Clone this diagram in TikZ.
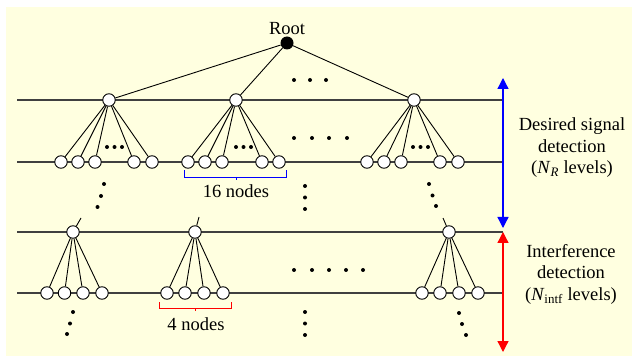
\documentclass[tikz,border=0pt]{standalone}
\usepackage{fontspec}
\setmainfont{Liberation Serif}
\usetikzlibrary{arrows.meta}
\definecolor{bgyellow}{RGB}{255,255,224}
\definecolor{arrblue}{RGB}{0,0,255}
\definecolor{arrred}{RGB}{255,0,0}
\tikzset{
  tn/.style={circle,draw=black,fill=white,line width=0.9pt,inner sep=0pt,minimum size=12.5pt},
  rootnode/.style={circle,fill=black,inner sep=0pt,minimum size=13pt},
  levelline/.style={draw=black!75,line width=1.3pt},
  edge/.style={draw=black,line width=0.9pt},
  dotmark/.style={circle,fill=black,inner sep=0pt,minimum size=4pt},
  lbl/.style={font=\fontsize{18.5}{21.5}\selectfont,inner sep=0pt},
  bigarrow/.style={line width=1.3pt,{Triangle[width=11pt,length=11pt]}-{Triangle[width=11pt,length=11pt]}},
}
\begin{document}
\begin{tikzpicture}[x=1pt,y=-1pt]
\useasboundingbox (0,0) rectangle (632,358);
\fill[bgyellow] (6,7) rectangle (632,356);

% level lines
\draw[levelline] (17,100) -- (503,100);
\draw[levelline] (17,162) -- (503,162);
\draw[levelline] (17,232) -- (503,232);
\draw[levelline] (17,293) -- (503,293);

% root
\node[rootnode] (root) at (287,43) {};
\node[lbl,anchor=base] (rootlbl) at (287,35) {Root};

% level 1
\node[tn] (p1) at (109,100) {};
\node[tn] (p2) at (236,100) {};
\node[tn] (p3) at (414,100) {};
\draw[edge] (root) -- (p1);
\draw[edge] (root) -- (p2);
\draw[edge] (root) -- (p3);

% level 2 children
\foreach \x [count=\i] in {61,78,95,134,152} {\node[tn] (a\i) at (\x,162) {}; \draw[edge] (p1) -- (a\i);}
\foreach \x [count=\i] in {188,205,222,262,279} {\node[tn] (b\i) at (\x,162) {}; \draw[edge] (p2) -- (b\i);}
\foreach \x [count=\i] in {367,384,401,440,458} {\node[tn] (c\i) at (\x,162) {}; \draw[edge] (p3) -- (c\i);}

% dots in level-2 groups
\foreach \x [count=\i] in {107,114.5,122} \node[dotmark] (da\i) at (\x,147) {};
\foreach \x [count=\i] in {236,243.5,251} \node[dotmark] (db\i) at (\x,147) {};
\foreach \x [count=\i] in {413,420.5,428} \node[dotmark] (dc\i) at (\x,147) {};

% root dots
\foreach \x [count=\i] in {294,310,326} \node[dotmark] (dr\i) at (\x,80) {};
% middle dots level1-2
\foreach \x [count=\i] in {294,312,329,347} \node[dotmark] (dm\i) at (\x,138) {};
% vertical dots below level 2
\foreach \y [count=\i] in {186,197.5,209} \node[dotmark] (dv\i) at (305,\y) {};
% diagonal dots
\node[dotmark] (dl1) at (104,184) {};
\node[dotmark] (dl2) at (101,196) {};
\node[dotmark] (dl3) at (97.5,207) {};
\node[dotmark] (dq1) at (429,184) {};
\node[dotmark] (dq2) at (432.5,195.5) {};
\node[dotmark] (dq3) at (436,206) {};

% blue bracket
\coordinate (bb1) at (184,170);
\coordinate (bb2) at (286,170);
\coordinate (bbm) at (236,180);
\draw[arrblue,line width=0.9pt] (bb1) -- (184,177) -- (286,177) -- (bb2);
\draw[arrblue,line width=0.9pt] (236,177) -- (bbm);
\node[lbl,anchor=base] (n16) at (236,198) {16 nodes};

% level 3
\node[tn] (q1) at (73,232) {};
\node[tn] (q2) at (195,232) {};
\node[tn] (q3) at (449,232) {};
\coordinate (s1) at (81,218);
\coordinate (s2) at (199,217);
\coordinate (s3) at (443,218);
\draw[edge] (q1) -- (s1);
\draw[edge] (q2) -- (s2);
\draw[edge] (q3) -- (s3);

% level 4 children
\foreach \x [count=\i] in {47,64.5,83,102} {\node[tn] (e\i) at (\x,293) {}; \draw[edge] (q1) -- (e\i);}
\foreach \x [count=\i] in {167,185,204,223} {\node[tn] (f\i) at (\x,293) {}; \draw[edge] (q2) -- (f\i);}
\foreach \x [count=\i] in {422,440,459,478} {\node[tn] (g\i) at (\x,293) {}; \draw[edge] (q3) -- (g\i);}

% middle dots level 3-4
\foreach \x [count=\i] in {294,312,329,346,363} \node[dotmark] (dn\i) at (\x,270) {};
% vertical dots below level 4
\foreach \y [count=\i] in {312,323.5,335} \node[dotmark] (dw\i) at (305,\y) {};
% diagonal dots below level 4
\node[dotmark] (dx1) at (73,312) {};
\node[dotmark] (dx2) at (70,323.5) {};
\node[dotmark] (dx3) at (67,334) {};
\node[dotmark] (dy1) at (459,313) {};
\node[dotmark] (dy2) at (462,324) {};
\node[dotmark] (dy3) at (466,335) {};

% red bracket
\coordinate (rb1) at (159,302);
\coordinate (rb2) at (231,302);
\coordinate (rbm) at (195,311);
\draw[arrred,line width=0.9pt] (rb1) -- (159,308) -- (231,308) -- (rb2);
\draw[arrred,line width=0.9pt] (195,308) -- (rbm);
\node[lbl,anchor=base] (n4) at (196,330) {4 nodes};

% arrows
\coordinate (ba1) at (503,78);
\coordinate (ba2) at (503,228);
\coordinate (ra1) at (503,232);
\coordinate (ra2) at (503,352);
\draw[bigarrow,arrblue] (ba2) -- (ba1);
\draw[bigarrow,arrred] (ra2) -- (ra1);

% side texts
\node[lbl,align=center] (desired) at (572,148) {Desired signal\\detection\\(\textit{N}\textsubscript{\textit{R}} levels)};
\node[lbl,align=center] (interf) at (571,274) {Interference\\detection\\(\textit{N}\textsubscript{intf} levels)};
\end{tikzpicture}
\end{document}
